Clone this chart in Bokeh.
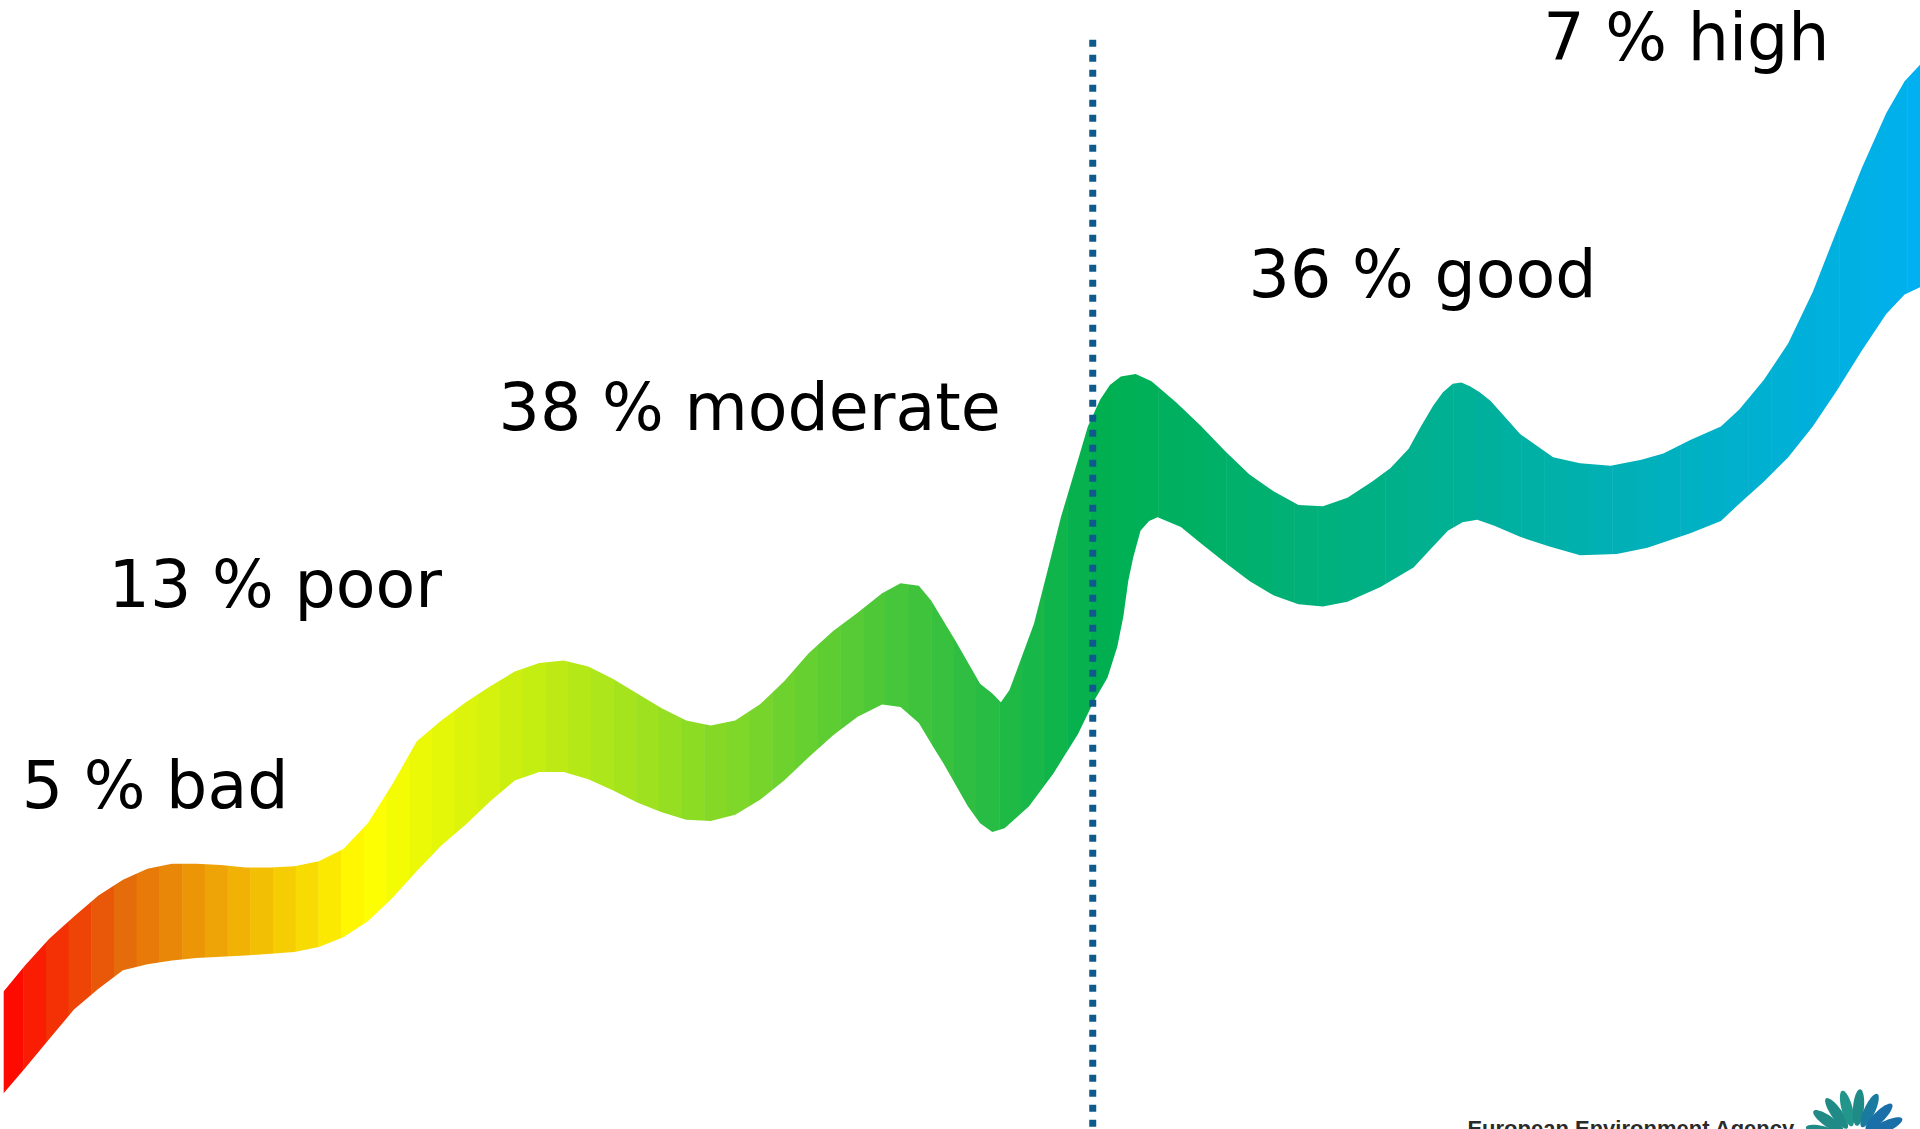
import numpy as np
from bokeh.plotting import figure
from bokeh.models import Range1d
from bokeh.core.properties import value
from bokeh.embed import file_html
from bokeh.resources import INLINE

# ---- data (in reference-picture units, y grows downward) ----
pct = [5, 13, 38, 36, 7]
classes = ["bad", "poor", "moderate", "good", "high"]
label_x = [17.3, 88.3, 406.8, 1019.3, 1260]
label_y = [660, 495.4, 351.2, 242.3, 49]

top_x = [2, 20, 40, 60, 80, 100, 120, 140, 160, 180, 200, 220, 240, 260, 280, 300, 320, 340, 360, 380,
         400, 420, 440, 460, 480, 500, 520, 540, 560, 580, 600, 620, 640, 660, 680, 700, 720, 735, 750, 760,
         780, 800, 810, 817, 824, 830, 844, 856, 866, 880, 888, 898, 906, 915, 927, 940, 960, 980, 1000, 1020,
         1040, 1060, 1080, 1100, 1120, 1135, 1150, 1160, 1170, 1178, 1186, 1193, 1200, 1208, 1217, 1241, 1268,
         1290, 1315, 1340, 1358, 1380, 1405, 1420, 1440, 1460, 1480, 1500, 1520, 1540, 1555, 1568]
top_y = [810, 788, 766, 748, 731, 718, 709, 705, 705, 706, 708, 708, 707, 703, 693, 672, 640, 605, 588, 573,
         560, 548, 541, 539, 544, 554, 566, 578, 588, 592, 588, 575, 556, 533, 515, 500, 484, 476, 478, 490,
         523, 558, 566, 573, 563, 547, 509, 462, 422, 375, 348, 326, 314, 307, 305, 311, 328, 347, 368, 387,
         401, 412, 413, 406, 393, 382, 366, 348, 331, 320, 313, 312, 315, 320, 327, 354, 373,
         378, 380, 375, 370, 359, 348, 334, 310, 280, 238, 187, 137, 92, 66, 52]

bot_x = [2, 20, 40, 60, 80, 100, 120, 140, 160, 200, 240, 260, 280, 300, 320, 340, 360, 380, 400, 420,
         440, 460, 480, 500, 520, 540, 560, 580, 600, 620, 640, 660, 680, 700, 720, 735, 750, 762, 770, 790,
         800, 810, 820, 840, 860, 880, 893, 904, 912, 917, 921, 925, 931, 938, 945, 964, 980, 1000, 1020, 1040,
         1060, 1080, 1100, 1127, 1154, 1168, 1182, 1194, 1206, 1220, 1241, 1265, 1290, 1320, 1345, 1380, 1405,
         1420, 1440, 1460, 1480, 1500, 1520, 1540, 1555, 1568]
bot_y = [893, 872, 848, 824, 807, 792, 787, 784, 782, 780, 777, 773, 765, 752, 733, 711, 690, 673, 654, 637,
         630, 630, 636, 645, 655, 663, 669, 670, 665, 653, 637, 618, 600, 585, 575, 577, 590, 610, 623, 658,
         672, 679, 676, 658, 631, 599, 572, 553, 528, 503, 474, 455, 433, 425, 422, 430, 443, 459, 474, 486,
         493, 495, 491, 479, 463, 448, 433, 426, 424, 429, 438, 446, 453, 452, 447, 435, 425,
         411, 393, 373, 348, 318, 286, 256, 240, 234]

divider_x = 892
divider_top = 32

# gradient colour stops (style)
stop_pos = [0, 102, 298, 898, 1568]
stop_col = ["#FF0000", "#E46C0A", "#FFFF00", "#00B050", "#00B0F0"]

S = 1920 / 1568.0   # picture units -> screen pixels
W, H = 1920, 1129
FONT = 65
BASE_SHIFT = 0.35   # em offset of the svg text baseline

p = figure(width=W, height=H, output_backend="svg", toolbar_location=None,
           x_range=Range1d(0, W / S), y_range=Range1d(H / S, 0),
           min_border=0, outline_line_color=None)
p.axis.visible = False
p.grid.visible = False
p.background_fill_color = "white"
p.border_fill_color = "white"


def hex2rgb(h):
    return np.array([int(h[i:i + 2], 16) for i in (1, 3, 5)], dtype=float)


stops_rgb = np.array([hex2rgb(c) for c in stop_col])
strip_w = 22.7 / S
lefts = np.arange(0, 1570, strip_w)
cols = []
for l in lefts:
    c = l + strip_w / 2
    rgb = [np.interp(c, stop_pos, stops_rgb[:, k]) for k in range(3)]
    cols.append("#%02x%02x%02x" % tuple(int(round(v)) for v in rgb))
lefts = lefts.copy()
lefts[0] = top_x[0] + 0.6
rights = np.append(lefts[1:] + 0.4, lefts[-1] + strip_w + 5)

p.quad(left=lefts, right=rights, top=min(top_y) - 5, bottom=max(bot_y) + 5,
       fill_color=cols, line_color=None)

# white masks outside the ribbon
p.varea(x=top_x, y1=[min(top_y) - 10] * len(top_x), y2=top_y, fill_color="white")
p.varea(x=bot_x, y1=bot_y, y2=[max(bot_y) + 10] * len(bot_x), fill_color="white")

# dotted divider
p.line(x=[divider_x, divider_x], y=[divider_top, H / S + 10], line_color="#0F5A8C",
       line_width=7, line_dash="7 8")

labels = [f"{a} % {b}" for a, b in zip(pct, classes)]
shift = BASE_SHIFT * FONT / S
p.text(x=label_x, y=[v - shift for v in label_y], text=labels, text_font=value("DejaVu Sans"),
       text_font_size=f"{FONT}px", text_color="black", text_baseline="alphabetic",
       text_align="left")

# logo (partially visible at the bottom edge)
p.text(x=[1198], y=[927.7 - BASE_SHIFT * 22 / S], text=["European Environment Agency"],
       text_font=value("Liberation Sans"), text_font_style="bold",
       text_font_size="22px", text_color="#2b2b2b", text_baseline="alphabetic")
cx, cy = 1515, 931
angles = [165, 145, 125, 105, 85, 65, 45, 25, 5]
pcols = ["#1f8a86", "#1f8a86", "#1f8a86", "#23968c", "#1f8a86", "#1a7aa0", "#1a6fa8", "#1a6fa8", "#1a6fa8"]
xs, ys = [], []
t = np.linspace(0, 2 * np.pi, 40)
for a in angles:
    r = np.deg2rad(a)
    mx, my = cx + 27 * np.cos(r), cy - 27 * np.sin(r)
    ex = 15 * np.cos(t)
    ey = 4.5 * np.sin(t)
    xs.append(list(mx + ex * np.cos(r) - ey * np.sin(r)))
    ys.append(list(my - (ex * np.sin(r) + ey * np.cos(r))))
p.patches(xs, ys, fill_color=pcols, line_color=None)

open("out.html", "w").write(file_html(p, INLINE))
